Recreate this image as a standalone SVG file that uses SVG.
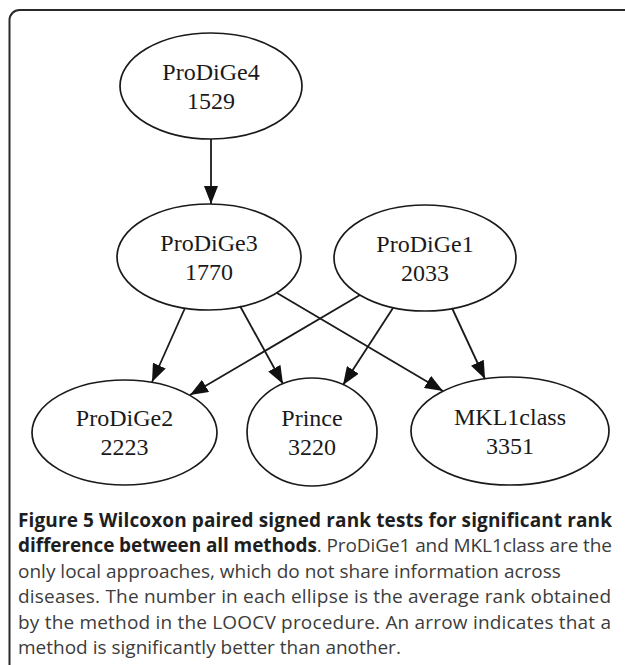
<svg xmlns="http://www.w3.org/2000/svg" width="625" height="665" viewBox="0 0 625 665">
<style>
.bg{fill:#ffffff}
.frame{fill:none;stroke:#2a2a2a;stroke-width:2}
.node ellipse{fill:none;stroke:#1a1a1a;stroke-width:1.7}
.node text{font-family:"Liberation Serif","Times New Roman",serif;font-size:24px;fill:#1a1a1a;text-anchor:middle}
.edges line{stroke:#1a1a1a;stroke-width:1.8;fill:none}
.cap{font-family:"Open Sans","Noto Sans",sans-serif;font-size:19px}
.b{font-weight:bold;fill:#1e1e1e}
.r{fill:#3c3c3c}
</style>
<defs>
<marker id="arr" markerUnits="userSpaceOnUse" markerWidth="18" markerHeight="14" refX="18" refY="7" orient="auto">
<path d="M0,0 L18,7 L0,14 Z" fill="#111"/>
</marker>
</defs>
<rect class="bg" x="0" y="0" width="625" height="665"/>
<path class="frame" d="M9.5,666 V20 A10,10 0 0 1 19.5,10 H626"/>

<g class="edges">
<line x1="211" y1="139" x2="211" y2="204" marker-end="url(#arr)"/>
<line x1="185" y1="308" x2="152" y2="382" marker-end="url(#arr)"/>
<line x1="240" y1="306" x2="283" y2="384" marker-end="url(#arr)"/>
<line x1="277" y1="293" x2="443" y2="391" marker-end="url(#arr)"/>
<line x1="360" y1="295" x2="190" y2="395" marker-end="url(#arr)"/>
<line x1="393" y1="308" x2="343" y2="385" marker-end="url(#arr)"/>
<line x1="452" y1="308" x2="485" y2="379" marker-end="url(#arr)"/>
</g>

<g id="ProDiGe4" class="node">
<ellipse cx="211" cy="86" rx="91" ry="53"/>
<text x="211" y="80">ProDiGe4</text>
<text x="211" y="109">1529</text>
</g>
<g id="ProDiGe3" class="node">
<ellipse cx="209" cy="257" rx="92" ry="53"/>
<text x="209" y="251">ProDiGe3</text>
<text x="209" y="280">1770</text>
</g>
<g id="ProDiGe1" class="node">
<ellipse cx="425" cy="258" rx="91" ry="53"/>
<text x="425" y="252">ProDiGe1</text>
<text x="425" y="281">2033</text>
</g>
<g id="ProDiGe2" class="node">
<ellipse cx="124.5" cy="432.5" rx="92.5" ry="52.5"/>
<text x="124.5" y="426">ProDiGe2</text>
<text x="124.5" y="455">2223</text>
</g>
<g id="Prince" class="node">
<ellipse cx="312" cy="432" rx="65" ry="54"/>
<text x="312" y="426">Prince</text>
<text x="312" y="455">3220</text>
</g>
<g id="MKL1class" class="node">
<ellipse cx="510" cy="431" rx="99" ry="54"/>
<text x="510" y="425">MKL1class</text>
<text x="510" y="454">3351</text>
</g>

<g id="caption" class="cap">
<text class="b" x="18" y="527" textLength="594" lengthAdjust="spacing">Figure 5 Wilcoxon paired signed rank tests for significant rank</text>
<text x="18" y="552" textLength="594" lengthAdjust="spacing"><tspan class="b">difference between all methods</tspan><tspan class="r">. ProDiGe1 and MKL1class are the</tspan></text>
<text class="r" x="18" y="578">only local approaches, which do not share information across</text>
<text class="r" x="18" y="603" textLength="593" lengthAdjust="spacing">diseases. The number in each ellipse is the average rank obtained</text>
<text class="r" x="18" y="629" textLength="593" lengthAdjust="spacing">by the method in the LOOCV procedure. An arrow indicates that a</text>
<text class="r" x="18" y="654">method is significantly better than another.</text>
</g>
</svg>
